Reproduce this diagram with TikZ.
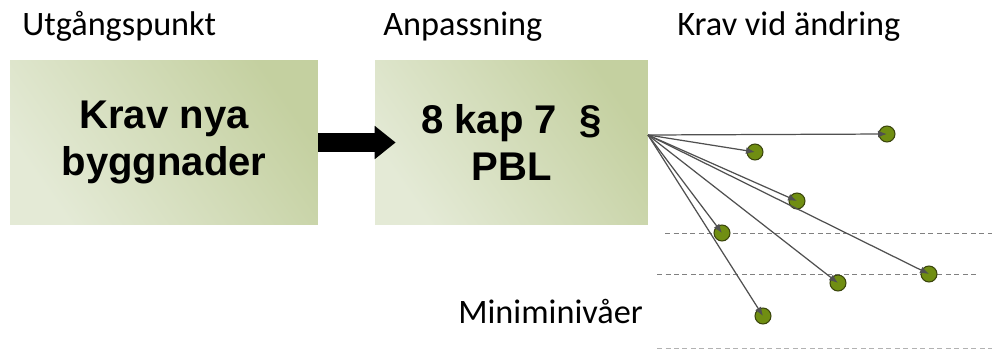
\documentclass[tikz,border=0pt]{standalone}
\usepackage{fontspec}
\setmainfont{Carlito}
\newfontfamily\boxfont{Liberation Sans}
\usepackage{xcolor}
\usetikzlibrary{arrows.meta}
\definecolor{boxlight}{RGB}{228,234,214}
\definecolor{boxdark}{RGB}{196,208,160}
\definecolor{dotgreen}{RGB}{112,142,18}
\definecolor{dotrim}{RGB}{58,68,12}
\definecolor{fanline}{RGB}{80,80,80}

\begin{document}
\begin{tikzpicture}[
    x=0.02cm, y=-0.02cm,
    >=latex,
    title/.style={font={\fontsize{19.5}{22}\selectfont}, anchor=base west, inner sep=0pt},
    stepbox/.style={left color=boxlight, right color=boxdark, shading angle=125,
        minimum height=3.3cm, inner sep=0pt, align=center,
        font={\boxfont\bfseries\fontsize{22.8}{26.5}\selectfont}},
    bigarrow/.style={line width=0.38cm, -{Triangle[length=0.42cm,width=0.64cm]}},
    level/.style={dash pattern=on 0.1cm off 0.07cm, line width=0.5pt, gray},
    dot/.style={circle, fill=dotgreen, draw=dotrim, line width=0.6pt,
        minimum size=0.32cm, inner sep=0pt},
    ray/.style={fanline, line width=0.7pt, -{Latex[length=0.18cm,width=0.14cm]}},
    ]

    \useasboundingbox (0,0) rectangle (992,349);

    % titles
    \node[title] (t1) at (22,35) {Utgångspunkt};
    \node[title] (t2) at (383,35) {Anpassning};
    \node[title] (t3) at (677,35) {Krav vid ändring};
    \node[title] (t4) at (458,323) {Miniminivåer};

    % boxes
    \node[stepbox, minimum width=6.16cm] (krav) at (164,142.5) {Krav nya\\byggnader};
    \node[stepbox, minimum width=5.46cm] (pbl) at (511.5,142.5) {8 kap 7~~§\\PBL};

    % arrow
    \draw[bigarrow] (krav.east) -- ([xshift=0.42cm]pbl.west);

    % levels
    \draw[level] (665,233) -- (992,233);
    \draw[level] (657,274) -- (978,274);
    \draw[level, gray!60] (657,348) -- (992,348);

    % dots
    \coordinate (fan) at (648,135);
    \node[dot] (d1) at (887,134) {};
    \node[dot] (d2) at (755,152) {};
    \node[dot] (d3) at (797,201) {};
    \node[dot] (d4) at (722,233) {};
    \node[dot] (d5) at (838,283) {};
    \node[dot] (d6) at (929,274) {};
    \node[dot] (d7) at (763,316) {};

    % rays
    \foreach \d in {d1,d2,d3,d4,d5,d6,d7}
        \draw[ray] (fan) -- (\d.center);

\end{tikzpicture}
\end{document}
